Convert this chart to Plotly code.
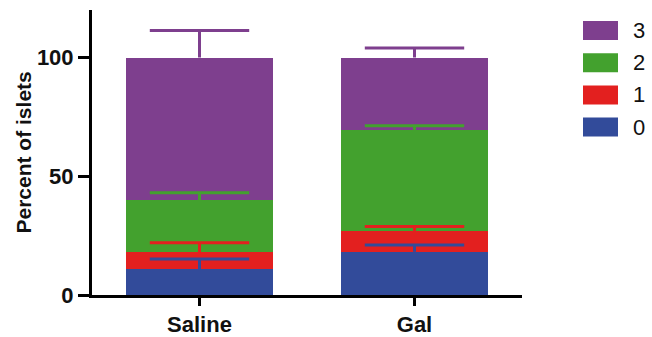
import numpy as np
import plotly.graph_objects as go

# Islet score distribution per treatment group (mean % of islets, SD)
groups = ["Saline", "Gal"]
scores = ["0", "1", "2", "3"]
colors = ["#324B9A", "#E3201F", "#43A12E", "#7E3F8E"]

mean_saline = [10.8, 7.2, 22.0, 60.0]
mean_gal = [18.2, 8.8, 42.5, 30.5]
sd_saline = [4.4, 4.0, 3.1, 11.4]
sd_gal = [2.9, 1.8, 1.8, 4.0]

y_ticks = [0, 50, 100]

means = np.array([mean_saline, mean_gal])   # shape (group, score)
sds = np.array([sd_saline, sd_gal])
tops = np.cumsum(means, axis=1)              # stacked top of each segment

FONT = "Liberation Sans, Arial, sans-serif"

fig = go.Figure()

# stacked bars
for i, s in enumerate(scores):
    fig.add_trace(go.Bar(
        x=groups, y=means[:, i], name=s,
        marker=dict(color=colors[i], line=dict(width=0)),
        width=0.68, showlegend=False,
    ))

# upward SD whiskers: a cap marker at top+SD with a stem reaching down to the segment top
for i, s in enumerate(scores):
    fig.add_trace(go.Scatter(
        x=groups, y=tops[:, i] + sds[:, i], mode="markers",
        marker=dict(symbol="line-ew", size=71, color=colors[i],
                    line=dict(width=3, color=colors[i])),
        error_y=dict(type="data", array=[0] * len(groups), arrayminus=sds[:, i],
                     symmetric=False, color=colors[i], thickness=3, width=0),
        showlegend=False, hoverinfo="skip",
    ))

# plot-area geometry (pixels)
W, H = 652, 337
L, R, T, B = 92, 130, 10, 42
pw, ph = W - L - R, H - T - B

def px_x(px):
    return (px - L) / pw

def px_y(py):
    return (H - B - py) / ph

# legend: swatches + labels, highest score on top
shapes, annots = [], []
for row, i in enumerate(reversed(range(len(scores)))):
    top = 21 + row * 32.2
    shapes.append(dict(type="rect", xref="paper", yref="paper",
                       x0=px_x(583), x1=px_x(618), y0=px_y(top + 19), y1=px_y(top),
                       fillcolor=colors[i], line=dict(width=0)))
    annots.append(dict(xref="paper", yref="paper", x=px_x(631), y=px_y(top + 9.5),
                       text=scores[i], showarrow=False, xanchor="left", yanchor="middle",
                       font=dict(family=FONT, size=22, color="#111111")))

# y-axis title
annots.append(dict(xref="paper", yref="paper", x=0, y=0.5, xshift=-69,
                   text="<b>Percent of islets</b>", textangle=-90, showarrow=False,
                   xanchor="center", yanchor="middle",
                   font=dict(family=FONT, size=21, color="#111111")))

fig.update_layout(
    width=W, height=H,
    margin=dict(l=L, r=R, t=T, b=B, pad=0),
    barmode="stack",
    plot_bgcolor="white", paper_bgcolor="white",
    shapes=shapes, annotations=annots,
    xaxis=dict(range=[-0.5, 1.5], showline=True, linecolor="black", linewidth=3,
               ticks="outside", ticklen=8, tickwidth=3, tickcolor="black",
               tickfont=dict(family=FONT, size=22, color="#111111"),
               tickprefix="<b>", ticksuffix="</b>", automargin=False,
               showgrid=False, zeroline=False, fixedrange=True),
    yaxis=dict(range=[0, 120], showline=True, linecolor="black", linewidth=3,
               ticks="outside", ticklen=11, tickwidth=3, tickcolor="black",
               tickvals=y_ticks, ticktext=[f"<b>{v}</b>" for v in y_ticks],
               tickfont=dict(family=FONT, size=22, color="#111111"), automargin=False,
               showgrid=False, zeroline=False, fixedrange=True),
)

fig.write_html("out.html")
